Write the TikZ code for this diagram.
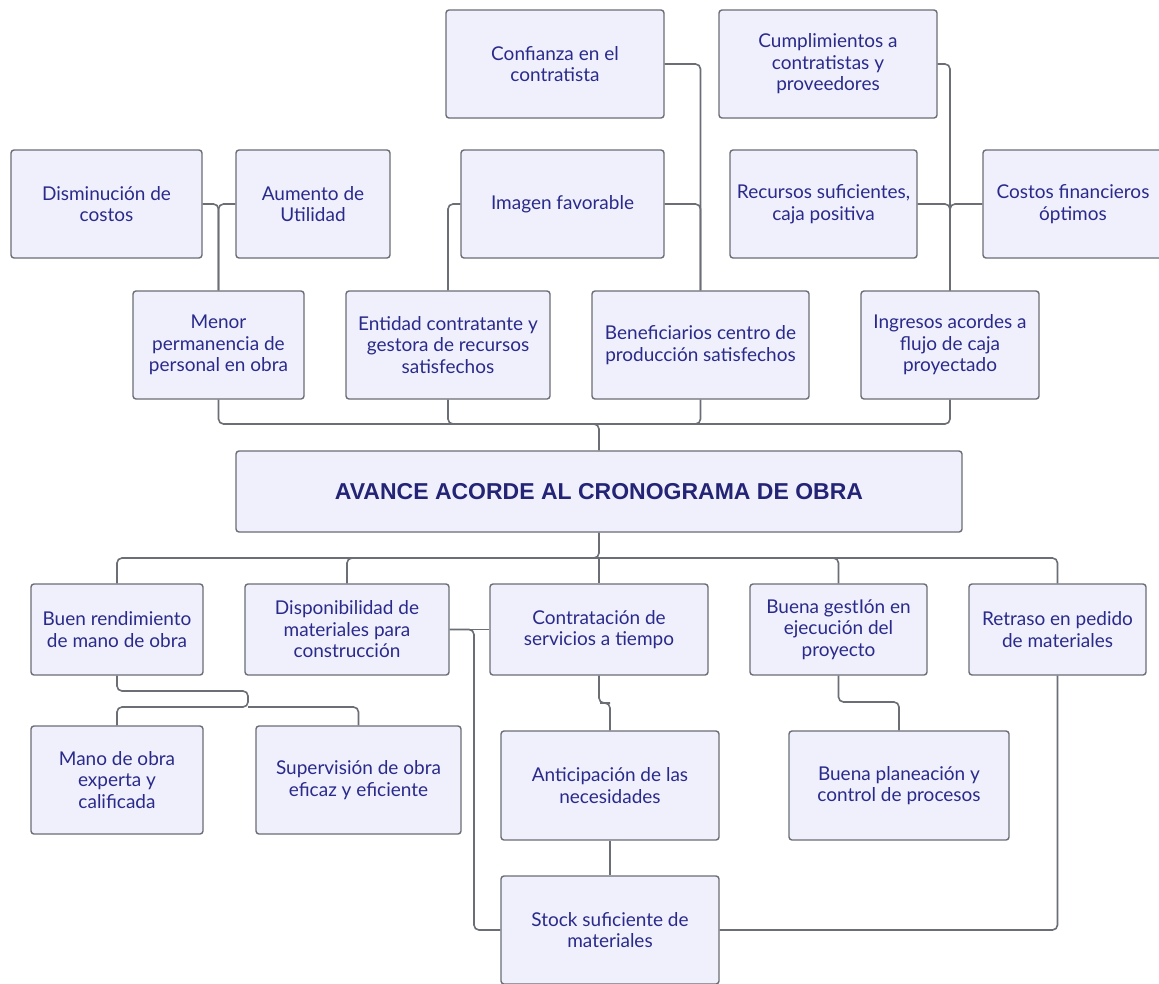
\documentclass[tikz,border=0pt]{standalone}
\usepackage{fontspec}
\setmainfont{Lato}
\newfontfamily\titlefont{Liberation Sans}
\definecolor{cajafill}{HTML}{F0F0FC}
\definecolor{cajaborde}{HTML}{6B6E75}
\definecolor{cajatexto}{HTML}{2A2A8C}
\tikzset{
  caja/.style={draw=cajaborde, line width=1.4pt, fill=cajafill, rounded corners=3pt,
    align=center, text=cajatexto, inner sep=0pt, font=\fontsize{19}{21.5}\selectfont},
  linea/.style={draw=cajaborde, line width=1.6pt, rounded corners=5pt}
}
\begin{document}
\begin{tikzpicture}[x=1pt,y=-1pt]
	\useasboundingbox[fill=white] (0,0) rectangle (1159,983);

	% efectos superiores
	\node[caja, minimum width=218, minimum height=108] (conf) at (555,64) {Confianza en el\\contratista};
	\node[caja, minimum width=218, minimum height=108] (cumpl) at (828,64) {Cumplimientos a\\contratistas y\\proveedores};
	\node[caja, minimum width=191, minimum height=108] (dismi) at (106.5,204) {Disminución de\\costos};
	\node[caja, minimum width=154, minimum height=108] (aumento) at (313,204) {Aumento de\\Utilidad};
	\node[caja, minimum width=203, minimum height=108] (imagen) at (562.5,204) {Imagen favorable};
	\node[caja, minimum width=187, minimum height=108] (recursos) at (823.5,204) {Recursos suficientes,\\caja positiva};
	\node[caja, minimum width=180, minimum height=108] (costos) at (1073,204) {Costos financieros\\óptimos};
	\node[caja, minimum width=171, minimum height=108] (menor) at (218.5,345) {Menor\\permanencia de\\personal en obra};
	\node[caja, minimum width=204, minimum height=108] (entidad) at (448,345) {Entidad contratante y\\gestora de recursos\\satisfechos};
	\node[caja, minimum width=217, minimum height=108] (benef) at (700.5,345) {Beneficiarios centro de\\producción satisfechos};
	\node[caja, minimum width=178, minimum height=108] (ingresos) at (950,345) {Ingresos acordes a\\flujo de caja\\proyectado};

	% problema central
	\node[caja, minimum width=726, minimum height=81, font=\titlefont\bfseries\fontsize{23}{26}\selectfont, text=cajatexto!85!black] (avance) at (599,491.5) {AVANCE ACORDE AL CRONOGRAMA DE OBRA};

	% causas
	\node[caja, minimum width=172, minimum height=91] (buen) at (117,629.5) {Buen rendimiento\\de mano de obra};
	\node[caja, minimum width=204, minimum height=91] (dispo) at (347,629.5) {Disponibilidad de\\materiales para\\construcción};
	\node[caja, minimum width=218, minimum height=91] (contr) at (599,629.5) {Contratación de\\servicios a tiempo};
	\node[caja, minimum width=177, minimum height=91] (gestion) at (838.5,629.5) {Buena gestIón en\\ejecución del\\proyecto};
	\node[caja, minimum width=177, minimum height=91] (retraso) at (1057.5,629.5) {Retraso en pedido\\de materiales};
	\node[caja, minimum width=172, minimum height=108] (mano) at (117,780) {Mano de obra\\experta y\\calificada};
	\node[caja, minimum width=205, minimum height=108] (superv) at (358.5,780) {Supervisión de obra\\eficaz y eficiente};
	\node[caja, minimum width=218, minimum height=109] (antic) at (610,785.5) {Anticipación de las\\necesidades};
	\node[caja, minimum width=220, minimum height=109] (plan) at (899,785.5) {Buena planeación y\\control de procesos};
	\node[caja, minimum width=218, minimum height=108] (stock) at (610,930) {Stock suficiente de\\materiales};

	% puntos de union
	\coordinate (juntaA) at (599,424);
	\coordinate (juntaB) at (599,558);
	\coordinate (juntaC) at (248,691);
	\coordinate (juntaD) at (248,707);
	\coordinate (juntaE) at (474,930);
	\coordinate (juntaF) at (605,703);
	\coordinate (juntaG) at (870,702);

	% conectores arriba
	\draw[linea] (conf.east) -| (benef.north);
	\draw[linea] (imagen.east) -| (benef.north);
	\draw[linea] (imagen.west) -| (entidad.north);
	\draw[linea] (dismi.east) -| (menor.north);
	\draw[linea] (aumento.west) -| (menor.north);
	\draw[linea] (cumpl.east) -| (ingresos.north);
	\draw[linea] (recursos.east) -| (ingresos.north);
	\draw[linea] (costos.west) -| (ingresos.north);
	\draw[linea] (menor.south) |- (juntaA) -- (avance.north);
	\draw[linea] (entidad.south) |- (juntaA);
	\draw[linea] (benef.south) |- (juntaA);
	\draw[linea] (ingresos.south) |- (juntaA);

	% conectores abajo
	\draw[linea] (avance.south) -- (juntaB) -| (buen.north);
	\draw[linea] (juntaB) -| (dispo.north);
	\draw[linea] (juntaB) -- (contr.north);
	\draw[linea] (juntaB) -| (gestion.north);
	\draw[linea] (juntaB) -| (retraso.north);
	\draw[linea] (buen.south) |- (juntaC) -- (juntaD) -| (mano.north);
	\draw[linea] (juntaD) -| (superv.north);
	\draw[linea] (dispo.east) -- (contr.west);
	\draw[linea] (dispo.east) -| (juntaE) -- (stock.west);
	\draw[linea] (contr.south) |- (juntaF) -| (antic.north);
	\draw[linea] (antic.south) -- (stock.north);
	\draw[linea] (retraso.south) |- (stock.east);
	\draw[linea] (gestion.south) |- (juntaG) -| (plan.north);
\end{tikzpicture}
\end{document}
